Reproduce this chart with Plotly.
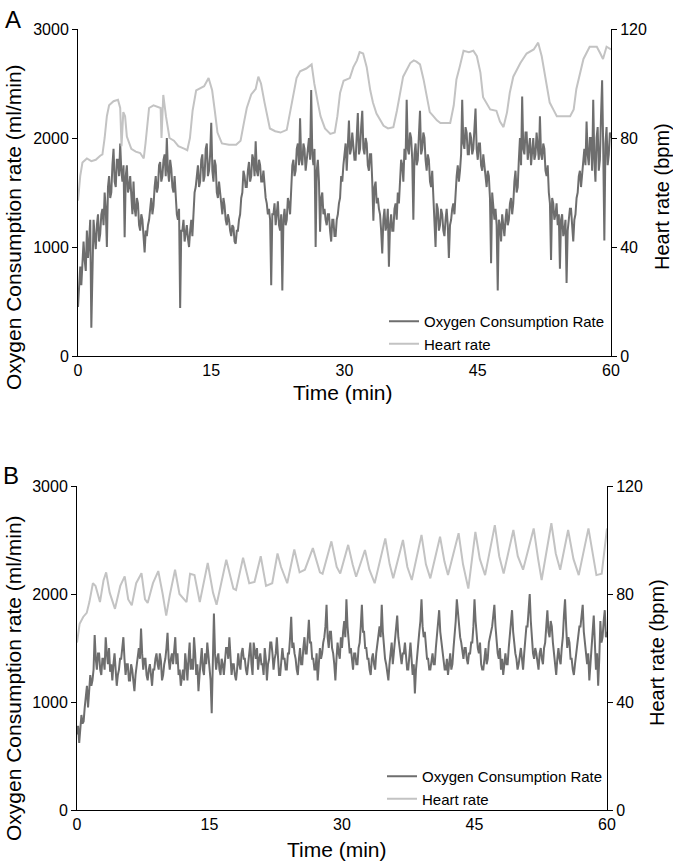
import numpy as np
import plotly.graph_objects as go

# ---------------- Panel A data ----------------
# Oxygen consumption (ml/min), sampled every 0.125 min, 0..60 (8 values per minute)
o2_a = [
    450, 700, 820, 650, 950, 1050, 880, 780,
    1150, 900, 1050, 1250, 260, 1000, 1250, 1100,
    980, 1200, 1300, 1050, 1120, 1300, 1350, 1200,
    1500, 1350, 1000, 1550, 1650, 1450, 1500, 1750,
    1900, 1600, 1550, 1800, 1800, 1650, 1950, 1700,
    1600, 1750, 1090, 1650, 1750, 1500, 1550, 1650,
    1450, 1300, 1600, 1350, 1280, 1450, 1400, 1200,
    1150, 1300, 1250, 1050, 950, 1150, 1100, 1200,
    1250, 1350, 1450, 1300, 1380, 1550, 1650, 1500,
    1550, 1750, 1780, 1600, 1650, 1800, 1850, 1650,
    2000, 1700, 1600, 1800, 1720, 1550, 1500, 1650,
    1400, 1300, 1250, 1350, 440, 1150, 1150, 1250,
    1050, 1150, 1200, 1080, 1000, 1150, 1250, 1100,
    1400, 1500, 1550, 1700, 1750, 1550, 1600, 1800,
    1850, 1600, 1650, 1900, 1950, 1650, 1700, 1850,
    2140, 1700, 1600, 1800, 1750, 1500, 1450, 1600,
    1500, 1350, 1300, 1450, 1380, 1250, 1200, 1300,
    1250, 1150, 1100, 1200, 1180, 1050, 1030, 1150,
    1150, 1250, 1300, 1450, 1500, 1700, 1650, 1550,
    1550, 1700, 1780, 1600, 1650, 1850, 1800, 1650,
    1970, 1700, 1650, 1800, 1750, 1600, 1600, 1700,
    1550, 1450, 1400, 1300, 1350, 1250, 650, 1300,
    1300, 1400, 1200, 1350, 1420, 1200, 1150, 1300,
    600, 1250, 1350, 1200, 1250, 1450, 1400, 1300,
    1600, 1750, 1800, 1650, 1700, 1900, 1950, 1750,
    2180, 1800, 1750, 1950, 1900, 1700, 1800, 1950,
    2000, 1800, 2440, 1850, 1750, 1900, 1000, 1700,
    1800, 1600, 1140, 1450, 1500, 1300, 1350, 1250,
    1200, 1300, 1300, 1150, 1050, 1250, 1250, 1100,
    1100, 1250, 1300, 1400, 1450, 1650, 1600, 1750,
    1850, 1950, 1700, 2000, 2160, 1850, 1900, 2050,
    1950, 1800, 1800, 2050, 2230, 1850, 1900, 2100,
    2250, 1900, 1850, 2000, 1950, 1750, 1700, 1850,
    1850, 1600, 1240, 1550, 1600, 1400, 1450, 1350,
    1300, 1150, 940, 1250, 1350, 1150, 1200, 1350,
    820, 1200, 1300, 1150, 1150, 1350, 1400, 1250,
    1500, 1400, 1650, 1800, 1750, 1600, 1900, 1800,
    2350, 1900, 1850, 2050, 2000, 1800, 1250, 1850,
    1950, 1750, 1800, 2000, 2250, 1850, 1900, 2050,
    2000, 1800, 1700, 1850, 1800, 1600, 1550, 1700,
    1450, 1300, 1000, 1400, 1350, 1150, 1200, 1350,
    1300, 1150, 1100, 1250, 1350, 1200, 900, 1200,
    1250, 1350, 1400, 1300, 1550, 1650, 1750, 1600,
    1700, 1850, 2350, 1950, 1900, 2100, 2050, 1850,
    1850, 2050, 2000, 1850, 1900, 2050, 2270, 1900,
    1800, 1950, 1950, 1750, 1700, 1850, 1750, 1600,
    1550, 1700, 1650, 1450, 850, 1500, 1400, 1250,
    1350, 1200, 600, 1250, 1200, 1050, 1300, 1150,
    1100, 1250, 1350, 1200, 1250, 1400, 1450, 1300,
    1400, 1600, 1700, 1500, 1550, 1800, 2000, 1750,
    2380, 1900, 1850, 2050, 2050, 1800, 1900, 2000,
    1750, 1900, 2000, 1800, 1850, 2050, 1950, 1800,
    2200, 1850, 1800, 1950, 1900, 1700, 1650, 1750,
    1500, 1400, 880, 1450, 1400, 1250, 1300, 1400,
    1200, 1300, 800, 1250, 1300, 1100, 1150, 1250,
    670, 1150, 1250, 1350, 1350, 1200, 1050, 1250,
    1300, 1450, 1500, 1650, 1700, 1550, 1650, 1800,
    1900, 1750, 2150, 1850, 1750, 2000, 2000, 1700,
    2350, 1800, 1600, 2000, 2100, 1700, 1800, 2200,
    2530, 1900, 1060, 1950, 2100, 1750, 1850, 2050,
    2000,
]

hr_a_t = [0, 0.25, 0.5, 1.0, 1.5, 2.0, 2.5, 2.75, 3.0, 3.25, 3.5, 4.0, 4.5, 4.75, 4.9,
          5.1, 5.3, 5.5, 6.0, 6.5, 7.0, 7.4, 7.6, 7.8, 8.0, 8.5, 9.0, 9.3, 9.4, 9.6,
          9.9, 10.3, 10.8, 11.3, 12.0, 12.3, 12.6, 12.9, 13.3, 13.8, 14.2, 14.7, 15.1,
          15.4, 15.7, 16.2, 17.0, 17.8, 18.3, 18.7, 19.0, 19.5, 20.0, 20.3, 20.6, 21.0,
          21.3, 21.6, 22.2, 22.8, 23.5, 23.8, 24.2, 24.6, 25.0, 25.7, 26.3, 26.6, 27.0,
          27.3, 27.8, 28.4, 28.9, 29.2, 29.5, 29.9, 30.6, 31.0, 31.4, 31.7, 32.1, 32.5,
          32.9, 33.2, 33.6, 34.0, 34.4, 34.9, 35.5, 35.9, 36.3, 36.6, 37.4, 37.8, 38.1,
          38.5, 38.9, 39.3, 39.6, 40.0, 40.4, 40.8, 41.9, 42.3, 42.6, 43.0, 43.4, 44.0,
          44.5, 44.9, 45.3, 45.6, 46.0, 46.4, 47.1, 47.5, 47.9, 48.3, 48.6, 49.0, 49.8,
          50.5, 51.3, 51.8, 52.2, 52.8, 53.1, 53.5, 53.9, 55.4, 55.8, 56.1, 56.5, 56.9,
          57.6, 58.4, 58.8, 59.1, 59.5, 60.0]
hr_a = [57, 66, 71, 72.5, 71.5, 72, 73.5, 74, 80, 88, 92, 93.5, 94, 91, 77,
        89.5, 88, 80.5, 76, 75, 74.5, 72.5, 78, 86, 91, 92, 91.5, 91, 80, 95.8,
        88, 80, 79, 77, 76, 75.5, 80, 90, 97.5, 98.5, 99, 102, 97.5,
        90, 82, 78, 77.5, 77.5, 79, 86, 91, 96, 98, 102.5, 100, 93,
        88, 83.5, 82.5, 82, 83, 88, 95, 102, 104.5, 105.5, 107, 100, 93,
        88, 83.5, 81.5, 82, 88, 96.5, 101, 102, 106, 108.5, 111.5, 111, 106,
        97.5, 93, 89, 86.5, 84.5, 83.5, 84, 90, 96.5, 102.5, 107.5, 108.5, 108,
        107, 101.5, 94, 89.5, 88, 86.5, 85.5, 85.5, 92, 101.5, 106.5, 112, 111.5,
        112, 110, 104, 95, 93, 90.5, 90, 86, 84, 89.5, 96.5, 102.5, 107.5,
        111, 112.5, 115, 110, 99, 93, 90.5, 88, 88, 90.5, 98, 104, 109,
        113.5, 113.5, 111, 109, 113.5, 112.5]

# ---------------- Panel B data ----------------
o2_b = [
    700, 780, 620, 750, 880, 800, 820, 950,
    1050, 1150, 950, 1100, 1250, 1150, 1200, 1300,
    1620, 1400, 1300, 1450, 1450, 1300, 1250, 1400,
    1400, 1300, 1600, 1450, 1350, 1500, 1280, 1350,
    1200, 1350, 1450, 1300, 1150, 1250, 1300, 1400,
    1400, 1500, 1600, 1400, 1250, 1350, 1350, 1200,
    1200, 1350, 1300, 1200, 1100, 1250, 1350, 1450,
    1500, 1400, 1680, 1450, 1300, 1400, 1400, 1250,
    1200, 1300, 1350, 1250, 1150, 1300, 1300, 1400,
    1450, 1350, 1300, 1450, 1380, 1200, 1250, 1350,
    1400, 1500, 1640, 1400, 1300, 1400, 1450, 1350,
    1500, 1600, 1350, 1450, 1250, 1300, 1150, 1250,
    1300, 1200, 1450, 1350, 1200, 1400, 1550, 1300,
    1400, 1300, 1600, 1450, 1250, 1350, 1100, 1250,
    1400, 1500, 1300, 1250, 1450, 1350, 1550, 1400,
    1350, 1200, 895, 1350, 1820, 1450, 1300, 1400,
    1450, 1300, 1250, 1400, 1350, 1250, 1400, 1500,
    1500, 1400, 1600, 1450, 1250, 1350, 1350, 1250,
    1200, 1300, 1450, 1350, 1300, 1450, 1500, 1400,
    1400, 1300, 1250, 1350, 1450, 1550, 1350, 1250,
    1550, 1450, 1400, 1500, 1300, 1400, 1450, 1350,
    1350, 1250, 1500, 1400, 1200, 1350, 1400, 1550,
    1550, 1450, 1300, 1400, 1450, 1600, 1350, 1250,
    1250, 1350, 1500, 1400, 1400, 1300, 1300, 1450,
    1450, 1600, 1790, 1500, 1550, 1450, 1400, 1300,
    1250, 1400, 1500, 1350, 1350, 1500, 1600, 1450,
    1450, 1600, 1760, 1550, 1550, 1400, 1400, 1300,
    1300, 1450, 1200, 1350, 1500, 1400, 1450, 1550,
    1600, 1700, 1900, 1600, 1500, 1650, 1650, 1500,
    1450, 1350, 1200, 1400, 1550, 1450, 1400, 1600,
    1500, 1650, 1750, 1600, 1950, 1700, 1600, 1450,
    1500, 1400, 1300, 1450, 1450, 1350, 1350, 1500,
    1550, 1700, 1900, 1650, 1650, 1500, 1500, 1400,
    1400, 1300, 1250, 1400, 1450, 1350, 1300, 1450,
    1550, 1650, 1700, 1600, 1900, 1650, 1500, 1400,
    1350, 1250, 1200, 1350, 1450, 1550, 1350, 1450,
    1600, 1700, 1800, 1600, 1500, 1400, 1350, 1450,
    1450, 1550, 1400, 1300, 1300, 1450, 1550, 1400,
    1250, 1350, 1080, 1300, 1450, 1550, 1650, 1750,
    1950, 1700, 1600, 1650, 1500, 1400, 1400, 1300,
    1300, 1400, 1450, 1350, 1350, 1500, 1600, 1700,
    1850, 1650, 1550, 1450, 1400, 1300, 1300, 1400,
    1250, 1350, 1450, 1300, 1350, 1500, 1600, 1750,
    1950, 1800, 1700, 1600, 1550, 1450, 1400, 1500,
    1500, 1400, 1350, 1450, 1450, 1550, 1550, 1700,
    1950, 1750, 1600, 1500, 1450, 1550, 1350, 1300,
    1300, 1400, 1500, 1350, 1400, 1550, 1600, 1650,
    1700, 1800, 1900, 1700, 1550, 1450, 1400, 1500,
    1300, 1400, 1250, 1350, 1450, 1350, 1350, 1500,
    1600, 1700, 1850, 1650, 1500, 1450, 1400, 1300,
    1350, 1450, 1500, 1400, 1300, 1450, 1600, 1700,
    1700, 1850, 2000, 1750, 1550, 1450, 1400, 1500,
    1450, 1350, 1300, 1450, 1500, 1400, 1350, 1500,
    1550, 1700, 1850, 1650, 1600, 1750, 1700, 1550,
    1450, 1350, 1250, 1400, 1500, 1400, 1350, 1500,
    1600, 1800, 1950, 1700, 1500, 1600, 1550, 1400,
    1400, 1300, 1250, 1350, 1450, 1550, 1600, 1700,
    1700, 1800, 1900, 1650, 1550, 1450, 1350, 1450,
    1200, 1350, 1500, 1600, 1800, 1550, 1300, 1450,
    1150, 1400, 1750, 1550, 1600, 1750, 1850, 1600,
    1650,
]

hr_b_t = [0, 0.3, 0.7, 1.1, 1.4, 1.8, 2.1, 2.6, 3.0, 3.3, 3.7, 4.3, 4.9, 5.4, 5.8, 6.2,
          6.7, 7.3, 7.7, 8.0, 8.6, 9.2, 9.7, 10.1, 10.5, 11.1, 11.6, 12.4, 12.8, 13.3,
          13.9, 14.8, 15.4, 15.8, 16.9, 17.7, 18.0, 18.8, 19.5, 20.1, 20.8, 21.4, 22.1,
          22.7, 23.1, 23.8, 24.6, 25.2, 25.8, 26.7, 27.5, 27.8, 28.8, 29.4, 29.8, 30.7,
          31.2, 31.6, 32.6, 33.1, 33.7, 34.9, 35.4, 35.8, 36.9, 37.4, 37.9, 39.0, 39.5,
          40.0, 41.1, 41.6, 42.0, 43.2, 43.7, 44.1, 44.3, 45.1, 45.6, 46.2, 47.3, 47.8,
          48.3, 49.4, 49.9, 50.5, 51.7, 52.2, 52.6, 53.7, 54.2, 54.7, 55.6, 56.2, 56.8,
          57.9, 58.4, 58.8, 59.4, 59.9, 60.0]
hr_b = [62, 69, 71.5, 73, 77, 84, 83, 77, 85, 88, 80.5, 74.5, 83, 86.5, 78, 75.8,
        84, 87.7, 78, 76.7, 84, 88.5, 80, 72, 79.5, 89, 80, 77, 87.5, 87,
        77, 91.5, 80.5, 76, 92.7, 82, 81.5, 93.4, 84, 84.5, 94, 83, 84,
        95, 90, 84, 96.5, 88, 89, 97, 88, 87.5, 99.5, 90, 87.6, 98.2,
        91, 86.4, 96.3, 89, 84, 100.6, 91, 85.8, 100, 90, 85.2, 101.9, 91,
        85.8, 101.2, 92, 87, 102.5, 91, 84.7, 82, 103, 93, 87, 105.5, 94,
        87.6, 103.7, 94, 89, 104.3, 93, 85.2, 106.2, 95, 89, 103.7, 93, 87,
        104.3, 94, 87, 87.5, 100, 104.3]

t_o2 = np.linspace(0, 60, len(o2_a))
t_o2b = np.linspace(0, 60, len(o2_b))

O2_COLOR = "#6e6e6e"
HR_COLOR = "#c3c3c3"
FONT = "Liberation Sans, Arial, sans-serif"

fig = go.Figure()
fig.add_trace(go.Scatter(x=t_o2, y=o2_a, mode="lines", name="Oxygen Consumption Rate",
                         line=dict(color=O2_COLOR, width=2), xaxis="x", yaxis="y", legend="legend"))
fig.add_trace(go.Scatter(x=hr_a_t, y=hr_a, mode="lines", name="Heart rate",
                         line=dict(color=HR_COLOR, width=2), xaxis="x", yaxis="y2", legend="legend"))
fig.add_trace(go.Scatter(x=t_o2b, y=o2_b, mode="lines", name="Oxygen Consumption Rate",
                         line=dict(color=O2_COLOR, width=2), xaxis="x2", yaxis="y3", legend="legend2"))
fig.add_trace(go.Scatter(x=hr_b_t, y=hr_b, mode="lines", name="Heart rate",
                         line=dict(color=HR_COLOR, width=2), xaxis="x2", yaxis="y4", legend="legend2"))

W, H = 673, 868

def px(x):
    return x / W

def py(y):
    return 1 - y / H

xcommon = dict(range=[0, 60], tickvals=[0, 15, 30, 45, 60], showline=True, linecolor="black",
               linewidth=1, ticks="", showgrid=False, zeroline=False, automargin=False,
               tickfont=dict(family=FONT, size=16, color="black"))
ycommon = dict(showline=True, linecolor="black", linewidth=1, ticks="outside", ticklen=5,
               tickcolor="black", showgrid=False, zeroline=False, automargin=False,
               tickfont=dict(family=FONT, size=16, color="black"))

fig.update_layout(
    width=W, height=H,
    margin=dict(l=0, r=0, t=0, b=0),
    paper_bgcolor="white", plot_bgcolor="white",
    xaxis=dict(domain=[px(78), px(611)], anchor="y", **xcommon),
    yaxis=dict(domain=[py(356), py(29)], anchor="x", range=[0, 3000],
               tickvals=[0, 1000, 2000, 3000], **ycommon),
    yaxis2=dict(overlaying="y", side="right", anchor="x", range=[0, 120],
                tickvals=[0, 40, 80, 120], **ycommon),
    xaxis2=dict(domain=[px(77), px(607)], anchor="y3", **xcommon),
    yaxis3=dict(domain=[py(810), py(486)], anchor="x2", range=[0, 3000],
                tickvals=[0, 1000, 2000, 3000], **ycommon),
    yaxis4=dict(overlaying="y3", side="right", anchor="x2", range=[0, 120],
                tickvals=[0, 40, 80, 120], **ycommon),
    legend=dict(x=px(384), y=py(305), xanchor="left", yanchor="top",
                bgcolor="rgba(0,0,0,0)", font=dict(family=FONT, size=15, color="black"),
                tracegroupgap=0, itemwidth=30),
    legend2=dict(x=px(382), y=py(760), xanchor="left", yanchor="top",
                 bgcolor="rgba(0,0,0,0)", font=dict(family=FONT, size=15, color="black"),
                 tracegroupgap=0, itemwidth=30),
    showlegend=True,
)

ann = [
    dict(text="A", x=px(3), y=py(4), xanchor="left", yanchor="top", font=dict(size=24)),
    dict(text="B", x=px(1), y=py(460), xanchor="left", yanchor="top", font=dict(size=24)),
    dict(text="Oxygen Consumption rate (ml/min)", x=px(13), y=py(227), textangle=-90,
         xanchor="center", yanchor="middle", font=dict(size=21)),
    dict(text="Oxygen Consumption rate (ml/min)", x=px(13), y=py(678), textangle=-90,
         xanchor="center", yanchor="middle", font=dict(size=21)),
    dict(text="Heart rate (bpm)", x=px(662), y=py(197), textangle=-90,
         xanchor="center", yanchor="middle", font=dict(size=20)),
    dict(text="Heart rate (bpm)", x=px(657), y=py(653), textangle=-90,
         xanchor="center", yanchor="middle", font=dict(size=20)),
    dict(text="Time (min)", x=px(343), y=py(392), xanchor="center", yanchor="middle",
         font=dict(size=21)),
    dict(text="Time (min)", x=px(337), y=py(849), xanchor="center", yanchor="middle",
         font=dict(size=21)),
]
for a in ann:
    a.update(xref="paper", yref="paper", showarrow=False)
    a["font"].update(family=FONT, color="black")
fig.update_layout(annotations=ann)

# remove the default 8px page margin so the figure sits at the window's top-left corner
fig.write_html("out.html", config={"displayModeBar": False},
               post_script="document.body.style.margin='0px';document.body.style.overflow='hidden';")
